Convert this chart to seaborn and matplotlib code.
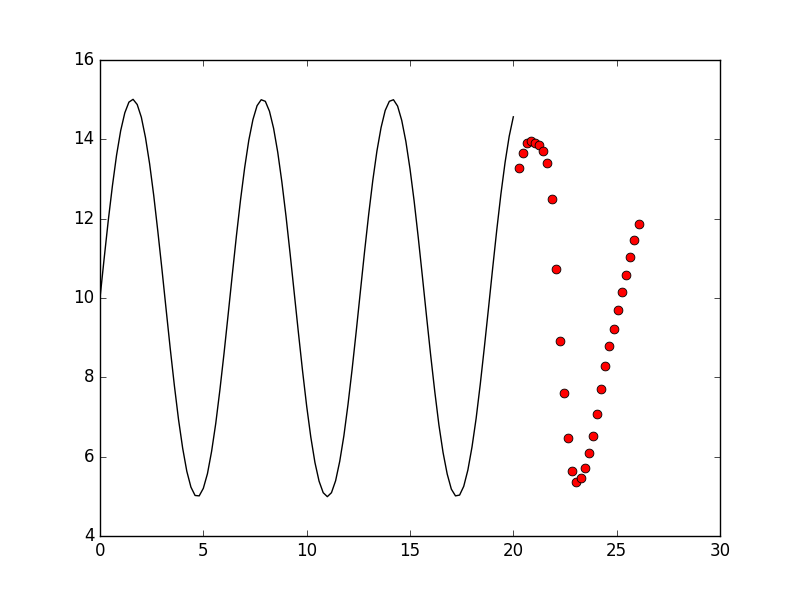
import matplotlib
matplotlib.use("Agg")
import matplotlib.pyplot as plt
import seaborn as sns
import numpy as np
import pandas as pd

plt.style.use("classic")

# Black curve, sampled every 0.2 from 0 to 20
line_x = [round(0.2 * i, 1) for i in range(101)]
line_y = [10.00, 10.99, 11.95, 12.82, 13.59, 14.21, 14.66, 14.93, 15.00, 14.87,
          14.55, 14.04, 13.38, 12.58, 11.67, 10.71, 9.71, 8.72, 7.79, 6.94,
          6.22, 5.64, 5.24, 5.03, 5.02, 5.21, 5.58, 6.14, 6.84, 7.68,
          8.60, 9.58, 10.58, 11.56, 12.47, 13.28, 13.97, 14.49, 14.84, 14.99,
          14.95, 14.70, 14.27, 13.67, 12.92, 12.06, 11.11, 10.12, 9.13, 8.17,
          7.28, 6.50, 5.86, 5.39, 5.10, 5.00, 5.10, 5.40, 5.89, 6.53,
          7.32, 8.21, 9.17, 10.17, 11.16, 12.10, 12.96, 13.70, 14.29, 14.72,
          14.95, 14.99, 14.83, 14.47, 13.94, 13.25, 12.44, 11.52, 10.54, 9.54,
          8.56, 7.64, 6.80, 6.11, 5.57, 5.19, 5.02, 5.04, 5.26, 5.67,
          6.25, 6.97, 7.83, 8.77, 9.75, 10.75, 11.72, 12.62, 13.41, 14.07,
          14.56]

# Red dots
dot_x = [20.25, 20.45, 20.65, 20.85, 21.05, 21.25, 21.45, 21.65, 21.85, 22.05,
         22.25, 22.45, 22.65, 22.85, 23.05, 23.25, 23.45, 23.65, 23.85, 24.05,
         24.25, 24.45, 24.65, 24.85, 25.05, 25.25, 25.45, 25.65, 25.85, 26.08]
dot_y = [13.26, 13.64, 13.89, 13.94, 13.91, 13.84, 13.71, 13.41, 12.48, 10.72,
         8.93, 7.62, 6.47, 5.64, 5.36, 5.46, 5.71, 6.09, 6.52, 7.09,
         7.70, 8.28, 8.78, 9.23, 9.69, 10.16, 10.59, 11.02, 11.45, 11.87]

line_df = pd.DataFrame({"x": line_x, "y": line_y})
dot_df = pd.DataFrame({"x": dot_x, "y": dot_y})

fig, ax = plt.subplots(figsize=(8, 5.96), dpi=100)
fig.patch.set_facecolor("white")

sns.lineplot(data=line_df, x="x", y="y", color="black", linewidth=1.0, ax=ax)
sns.scatterplot(data=dot_df, x="x", y="y", color="red", edgecolor="black",
                linewidth=0.6, s=40, ax=ax, zorder=3)

ax.set_xlim(0, 30)
ax.set_ylim(4, 16)
ax.set_xticks([0, 5, 10, 15, 20, 25, 30])
ax.set_yticks([4, 6, 8, 10, 12, 14, 16])
ax.set_xlabel("")
ax.set_ylabel("")

fig.savefig("out.png", dpi=100, facecolor="white")
